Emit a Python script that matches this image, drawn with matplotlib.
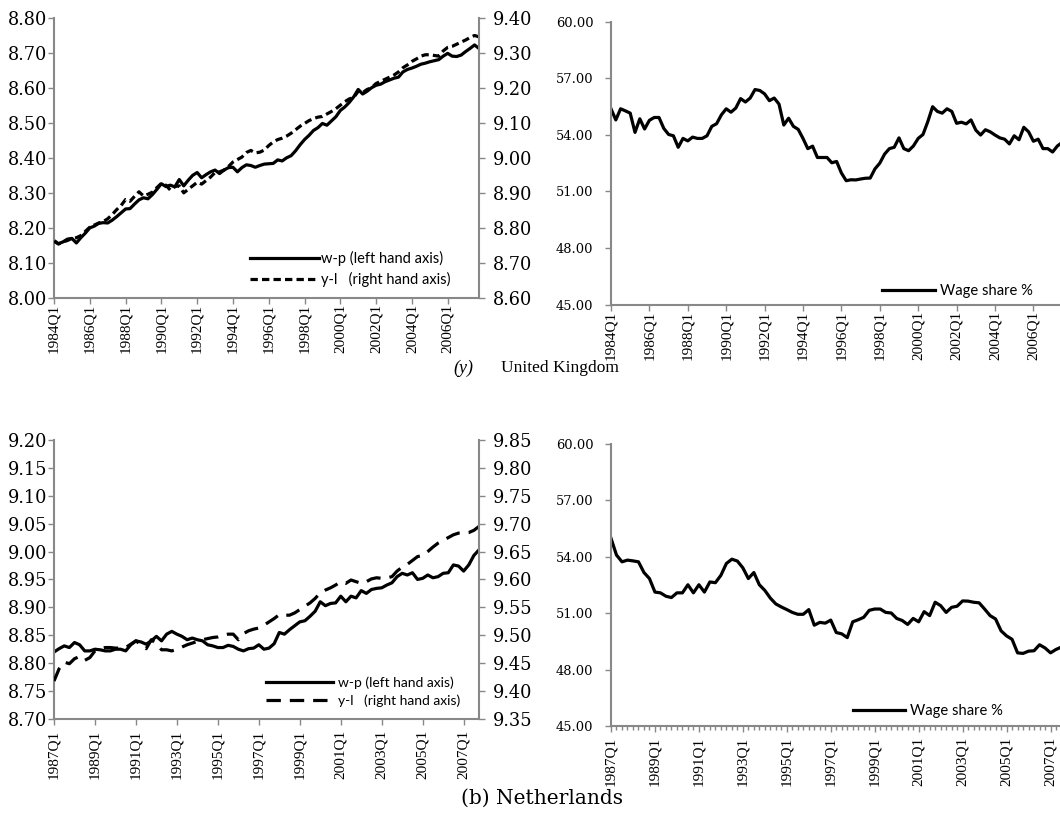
import matplotlib
matplotlib.use("Agg")
import matplotlib.pyplot as plt
import numpy as np

# ---------------- data ----------------
uk_xticklabels = ["1984Q1", "1986Q1", "1988Q1", "1990Q1", "1992Q1", "1994Q1",
                  "1996Q1", "1998Q1", "2000Q1", "2002Q1", "2004Q1", "2006Q1"]
nl_xticklabels = ["1987Q1", "1989Q1", "1991Q1", "1993Q1", "1995Q1", "1997Q1",
                  "1999Q1", "2001Q1", "2003Q1", "2005Q1", "2007Q1"]

# UK real wage w-p (left axis), 1984Q1-2007Q4
uk_wp = [8.164, 8.155, 8.160, 8.168, 8.170, 8.157, 8.172, 8.185, 8.200, 8.205,
         8.213, 8.215, 8.214, 8.222, 8.232, 8.243, 8.254, 8.255, 8.268, 8.280,
         8.286, 8.283, 8.295, 8.310, 8.326, 8.318, 8.322, 8.317, 8.338, 8.320,
         8.336, 8.350, 8.358, 8.343, 8.352, 8.360, 8.365, 8.355, 8.365, 8.372,
         8.373, 8.360, 8.372, 8.380, 8.378, 8.373, 8.378, 8.382, 8.383, 8.384,
         8.394, 8.391, 8.400, 8.406, 8.420, 8.437, 8.452, 8.464, 8.478, 8.486,
         8.498, 8.493, 8.505, 8.517, 8.535, 8.545, 8.558, 8.574, 8.595, 8.582,
         8.590, 8.600, 8.607, 8.610, 8.617, 8.622, 8.627, 8.630, 8.645, 8.652,
         8.656, 8.661, 8.667, 8.670, 8.674, 8.677, 8.680, 8.690, 8.698, 8.690,
         8.689, 8.693, 8.703, 8.712, 8.722, 8.712]
# UK productivity y-l (right axis)
uk_yl = [8.762, 8.754, 8.760, 8.764, 8.770, 8.772, 8.778, 8.790, 8.802, 8.808,
         8.814, 8.818, 8.826, 8.838, 8.852, 8.864, 8.881, 8.876, 8.890, 8.903,
         8.891, 8.896, 8.902, 8.915, 8.927, 8.922, 8.908, 8.918, 8.920, 8.900,
         8.910, 8.920, 8.930, 8.925, 8.935, 8.945, 8.958, 8.960, 8.965, 8.975,
         8.988, 8.995, 9.002, 9.015, 9.021, 9.014, 9.016, 9.022, 9.035, 9.045,
         9.052, 9.056, 9.062, 9.070, 9.080, 9.090, 9.098, 9.106, 9.112, 9.116,
         9.118, 9.125, 9.132, 9.140, 9.150, 9.160, 9.168, 9.172, 9.190, 9.186,
         9.195, 9.200, 9.212, 9.218, 9.224, 9.230, 9.236, 9.245, 9.257, 9.265,
         9.275, 9.282, 9.290, 9.294, 9.294, 9.292, 9.290, 9.305, 9.315, 9.318,
         9.324, 9.330, 9.336, 9.343, 9.349, 9.345]
# UK wage share %
uk_ws = [55.38, 54.79, 55.38, 55.27, 55.15, 54.13, 54.85, 54.31, 54.77, 54.92,
         54.92, 54.34, 54.02, 53.95, 53.34, 53.81, 53.68, 53.88, 53.81, 53.81,
         53.95, 54.45, 54.59, 55.06, 55.38, 55.20, 55.42, 55.92, 55.74, 55.95,
         56.40, 56.35, 56.17, 55.81, 55.95, 55.63, 54.52, 54.88, 54.45, 54.29,
         53.81, 53.27, 53.40, 52.80, 52.80, 52.80, 52.52, 52.59, 51.98, 51.57,
         51.62, 51.61, 51.66, 51.70, 51.71, 52.20, 52.50, 52.98, 53.27, 53.34,
         53.84, 53.27, 53.16, 53.41, 53.81, 54.02, 54.70, 55.49, 55.24, 55.15,
         55.38, 55.24, 54.61, 54.67, 54.58, 54.79, 54.25, 53.99, 54.27, 54.16,
         53.99, 53.84, 53.77, 53.52, 53.95, 53.74, 54.40, 54.16, 53.66, 53.77,
         53.27, 53.27, 53.09, 53.41, 53.60, 53.70]

# Netherlands w-p (left axis), 1987Q1-2007Q4
nl_wp = [8.820, 8.826, 8.831, 8.828, 8.837, 8.833, 8.822, 8.822, 8.825, 8.824,
         8.822, 8.822, 8.825, 8.825, 8.822, 8.833, 8.840, 8.838, 8.834, 8.840,
         8.848, 8.840, 8.852, 8.857, 8.852, 8.848, 8.842, 8.845, 8.842, 8.840,
         8.833, 8.831, 8.828, 8.828, 8.832, 8.830, 8.825, 8.822, 8.826, 8.827,
         8.833, 8.825, 8.827, 8.835, 8.855, 8.852, 8.860, 8.867, 8.874, 8.876,
         8.884, 8.893, 8.910, 8.903, 8.907, 8.908, 8.920, 8.910, 8.920, 8.917,
         8.930, 8.925, 8.932, 8.934, 8.935, 8.940, 8.944, 8.955, 8.961, 8.958,
         8.962, 8.950, 8.952, 8.958, 8.953, 8.955, 8.961, 8.962, 8.976, 8.974,
         8.965, 8.976, 8.993, 9.003]
# Netherlands y-l (right axis)
nl_yl = [9.418, 9.440, 9.452, 9.449, 9.458, 9.462, 9.455, 9.460, 9.472, 9.476,
         9.478, 9.478, 9.477, 9.477, 9.478, 9.484, 9.490, 9.483, 9.476, 9.492,
         9.485, 9.474, 9.474, 9.472, 9.475, 9.479, 9.483, 9.486, 9.489, 9.492,
         9.494, 9.496, 9.497, 9.500, 9.502, 9.502, 9.492, 9.503, 9.508, 9.511,
         9.513, 9.518, 9.524, 9.530, 9.537, 9.536, 9.536, 9.540, 9.546, 9.552,
         9.558, 9.566, 9.576, 9.581, 9.585, 9.590, 9.596, 9.593, 9.599, 9.596,
         9.593, 9.596, 9.601, 9.603, 9.602, 9.603, 9.605, 9.615, 9.622, 9.627,
         9.634, 9.641, 9.643, 9.650, 9.658, 9.665, 9.670, 9.675, 9.680, 9.683,
         9.683, 9.684, 9.688, 9.695]
# Netherlands wage share %
nl_ws = [54.98, 54.09, 53.73, 53.82, 53.78, 53.73, 53.16, 52.84, 52.12, 52.08,
         51.90, 51.83, 52.08, 52.08, 52.51, 52.08, 52.51, 52.12, 52.66, 52.62,
         53.01, 53.64, 53.87, 53.77, 53.41, 52.84, 53.16, 52.51, 52.21, 51.80,
         51.49, 51.33, 51.19, 51.04, 50.94, 50.94, 51.19, 50.36, 50.51, 50.47,
         50.63, 49.97, 49.90, 49.70, 50.54, 50.65, 50.78, 51.15, 51.22, 51.22,
         51.04, 51.01, 50.72, 50.61, 50.40, 50.72, 50.54, 51.08, 50.87, 51.58,
         51.40, 51.04, 51.31, 51.37, 51.65, 51.64, 51.58, 51.55, 51.22, 50.87,
         50.69, 50.06, 49.79, 49.61, 48.89, 48.86, 48.98, 49.00, 49.32, 49.15,
         48.89, 49.07, 49.20, 49.30]

# ---------------- styling ----------------
W, H = 1060, 827
GRAY = "#888888"
SERIF = ["Liberation Serif", "DejaVu Serif"]
YSERIF = ["DejaVu Serif"]
SANS = ["Lato", "DejaVu Sans"]
XTICK_FS = 11
YTICK_FS_L = 12.8
YTICK_FS_R = 9.4

fig = plt.figure(figsize=(W / 100, H / 100), dpi=100)


def add_axes(l, r, t, b):
    return fig.add_axes([l / W, 1 - b / H, (r - l) / W, (b - t) / H])


def style_axis(ax, ylim, yticks, ypad, yfs, xlabels, n, xpad, minor=False):
    ax.set_xlim(0, n - 1)
    ax.set_ylim(*ylim)
    ax.set_yticks(yticks)
    ax.set_yticklabels([f"{v:.2f}" for v in yticks], family=YSERIF, fontsize=yfs)
    ax.set_xticks(np.arange(0, n, 8)[:len(xlabels)])
    ax.set_xticklabels(xlabels, rotation=90, family=SERIF, fontsize=XTICK_FS)
    if minor:
        ax.set_xticks(np.arange(n), minor=True)
        ax.tick_params(axis="x", which="minor", length=3, width=1, color=GRAY)
    for s in ["top", "right"]:
        ax.spines[s].set_visible(False)
    for s in ["left", "bottom"]:
        ax.spines[s].set_color(GRAY)
        ax.spines[s].set_linewidth(1.5)
    ax.tick_params(axis="y", length=4, width=1, color=GRAY, pad=ypad, labelcolor="black")
    ax.tick_params(axis="x", which="major", length=4, width=1, color=GRAY, pad=xpad,
                   labelcolor="black")
    ax.patch.set_alpha(0)


def style_right(ax2, ylim, yticks, pad):
    ax2.set_ylim(*ylim)
    ax2.set_yticks(yticks)
    ax2.set_yticklabels([f"{v:.2f}" for v in yticks], family=YSERIF, fontsize=YTICK_FS_L)
    for s in ["top", "left", "bottom"]:
        ax2.spines[s].set_visible(False)
    ax2.spines["right"].set_color(GRAY)
    ax2.spines["right"].set_linewidth(1.5)
    ax2.tick_params(axis="y", length=4, width=1, color=GRAY, pad=pad, labelcolor="black")


def legend(ax, handles, x, y, fs, hl, htp, ls=0.3):
    ax.legend(handles=handles, loc="upper left", bbox_to_anchor=(x / W, 1 - y / H),
              bbox_transform=fig.transFigure, frameon=False,
              prop={"family": SANS, "size": fs}, handlelength=hl,
              handletextpad=htp, borderpad=0, borderaxespad=0, labelspacing=ls)


LW = 2.3

# ---- UK: w-p and y-l ----
ax1 = add_axes(54, 479, 17.6, 298)
n = len(uk_wp)
x = np.arange(n)
l1, = ax1.plot(x, uk_wp, color="black", lw=LW, label="w-p (left hand axis)")
style_axis(ax1, (8.0, 8.8), np.round(np.arange(8.0, 8.81, 0.1), 2), 1, YTICK_FS_L,
           uk_xticklabels, n, 0.5)
ax1b = ax1.twinx()
l2, = ax1b.plot(x, uk_yl, color="black", lw=LW, dashes=(2.3, 1.3),
                label="y-l   (right hand axis)")
style_right(ax1b, (8.6, 9.4), np.round(np.arange(8.6, 9.41, 0.1), 2), 6)
legend(ax1b, [l1, l2], 250, 251, 10.5, 4.75, 0.15, 0.4)

# ---- UK wage share ----
ax2 = add_axes(611, 1067, 21.6, 304.7)
n = len(uk_ws)
x = np.arange(n)
l3, = ax2.plot(x, uk_ws, color="black", lw=LW, label="Wage share %")
style_axis(ax2, (45, 60), np.arange(45, 60.1, 3.0), 8.6, YTICK_FS_R, uk_xticklabels, n, 0.5)
legend(ax2, [l3], 882, 284, 10.6, 3.6, 0.34)

# ---- NL: w-p and y-l ----
ax3 = add_axes(54, 479, 439.9, 719)
n = len(nl_wp)
x = np.arange(n)
l4, = ax3.plot(x, nl_wp, color="black", lw=LW, label="w-p (left hand axis)")
style_axis(ax3, (8.70, 9.20), np.round(np.arange(8.70, 9.201, 0.05), 2), 1, YTICK_FS_L,
           nl_xticklabels, n, 4)
ax3b = ax3.twinx()
l5, = ax3b.plot(x, nl_yl, color="black", lw=LW, dashes=(4.5, 2.8),
                label="y-l   (right hand axis)")
style_right(ax3b, (9.35, 9.85), np.round(np.arange(9.35, 9.851, 0.05), 2), 6)
legend(ax3b, [l4, l5], 266, 676, 10.0, 4.8, 0.36, 0.42)

# ---- NL wage share ----
ax4 = add_axes(611, 1067, 443.9, 726)
n = len(nl_ws)
x = np.arange(n)
l6, = ax4.plot(x, nl_ws, color="black", lw=LW, label="Wage share %")
style_axis(ax4, (45, 60), np.arange(45, 60.1, 3.0), 8.6, YTICK_FS_R, nl_xticklabels, n, 4,
           minor=True)
legend(ax4, [l6], 853, 704, 10.6, 3.5, 0.34)

# ---- captions ----
fig.text(463 / W, 1 - 368 / H, "(y)", family=SERIF, style="italic", fontsize=13,
         ha="center", va="center")
fig.text(560 / W, 1 - 368 / H, "United Kingdom", family=SERIF, fontsize=12.5,
         ha="center", va="center")
fig.text(542 / W, 1 - 798 / H, "(b) Netherlands", family=YSERIF, fontsize=14.5,
         ha="center", va="center")

fig.savefig("out.png", dpi=100)
